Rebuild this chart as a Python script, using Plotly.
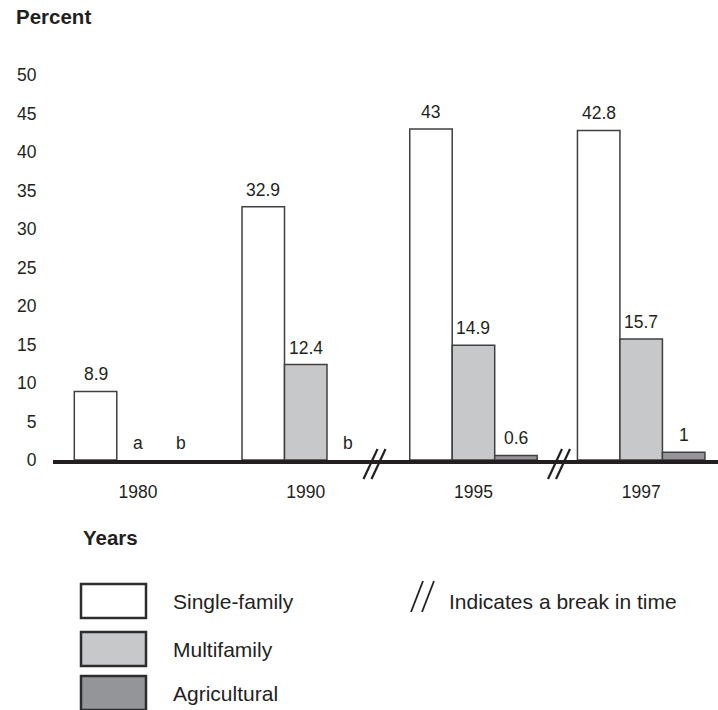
import plotly.graph_objects as go

# ---------------- data ----------------
years = ["1980", "1990", "1995", "1997"]
single = [8.9, 32.9, 43, 42.8]
multi = [None, 12.4, 14.9, 15.7]
agri = [None, None, 0.6, 1]
single_labels = ["8.9", "32.9", "43", "42.8"]
multi_labels = ["a", "12.4", "14.9", "15.7"]
agri_labels = ["b", "b", "0.6", "1"]
series_names = ["Single-family", "Multifamily", "Agricultural"]
y_ticks = [0, 5, 10, 15, 20, 25, 30, 35, 40, 45, 50]
break_positions = [1.41, 2.51]
break_note = "Indicates a break in time"

# ---------------- styles ----------------
colors = ["#ffffff", "#c7c8ca", "#939598"]
ink = "#231f20"
outline = "#404040"
FONT = "Liberation Sans, Arial, Helvetica, sans-serif"

W, H = 718, 710
ML, MR, MT, MB = 53, 0, 75, 250
x_range = [-0.507, 3.458]
y_range = [0, 50]
bargap = 0.24

plot_w = W - ML - MR
plot_h = H - MT - MB
px_per_cat = plot_w / (x_range[1] - x_range[0])
bar_px = (1 - bargap) / 3 * px_per_cat


def pxx(x):
    return (x - ML) / plot_w


def pxy(y):
    return (H - MB - y) / plot_h


def data_x_to_px(v):
    return ML + (v - x_range[0]) * px_per_cat


def data_y_to_px(v):
    return MT + (y_range[1] - v) / (y_range[1] - y_range[0]) * plot_h


fig = go.Figure()
series = [single, multi, agri]
labels = [single_labels, multi_labels, agri_labels]
for name, vals, col in zip(series_names, series, colors):
    fig.add_trace(go.Bar(
        x=years, y=vals, name=name,
        marker=dict(color=col, line=dict(color=outline, width=1.5)),
        showlegend=False, hoverinfo="skip",
    ))

annotations = []
for k, (vals, labs) in enumerate(zip(series, labels)):
    for i, (v, lab) in enumerate(zip(vals, labs)):
        annotations.append(dict(
            x=i, y=(v if v is not None else 0), xref="x", yref="y",
            text=lab, showarrow=False, xanchor="center", yanchor="middle",
            xshift=(k - 1) * bar_px, yshift=17,
            font=dict(family=FONT, size=17.5, color=ink),
        ))

# axis titles
annotations.append(dict(x=pxx(14), y=pxy(17), xref="paper", yref="paper",
                        text="<b>Percent</b>", showarrow=False,
                        xanchor="left", yanchor="middle",
                        font=dict(family=FONT, size=20.5, color=ink)))
annotations.append(dict(x=pxx(81), y=pxy(537), xref="paper", yref="paper",
                        text="<b>Years</b>", showarrow=False,
                        xanchor="left", yanchor="middle",
                        font=dict(family=FONT, size=20.5, color=ink)))

shapes = []
# break marks on the axis (paper coords, so they are not clipped)
base_px = data_y_to_px(0)
for bp in break_positions:
    cx = data_x_to_px(bp)
    for dx in (-4, 4):
        shapes.append(dict(
            type="line", xref="paper", yref="paper",
            x0=pxx(cx + dx + 7), y0=pxy(base_px - 11),
            x1=pxx(cx + dx - 7), y1=pxy(base_px + 19),
            line=dict(color=ink, width=2.2), layer="above",
        ))

# legend boxes
box_tops = [584, 632, 676]
for name, col, top in zip(series_names, colors, box_tops):
    shapes.append(dict(
        type="rect", xref="paper", yref="paper",
        x0=pxx(81), x1=pxx(146), y0=pxy(top), y1=pxy(top + 34),
        fillcolor=col, line=dict(color="#2d2d2d", width=2.5), layer="above",
    ))
    annotations.append(dict(
        x=pxx(171), y=pxy(top + 17), xref="paper", yref="paper",
        text=name, showarrow=False, xanchor="left", yanchor="middle",
        font=dict(family=FONT, size=21, color=ink),
    ))

# break legend
for (xt, xb) in ((423, 411), (434, 422)):
    shapes.append(dict(
        type="line", xref="paper", yref="paper",
        x0=pxx(xt), y0=pxy(581), x1=pxx(xb), y1=pxy(612),
        line=dict(color=ink, width=1.8),
    ))
annotations.append(dict(
    x=pxx(447), y=pxy(601), xref="paper", yref="paper",
    text=break_note, showarrow=False, xanchor="left", yanchor="middle",
    font=dict(family=FONT, size=21, color=ink),
))

fig.update_layout(
    width=W, height=H,
    margin=dict(l=ML, r=MR, t=MT, b=MB),
    paper_bgcolor="white", plot_bgcolor="white",
    barmode="group", bargap=bargap, bargroupgap=0,
    showlegend=False,
    font=dict(family=FONT, color=ink, size=17.5),
    annotations=annotations, shapes=shapes,
    xaxis=dict(
        type="category", range=x_range, showgrid=False, zeroline=False,
        showline=True, linewidth=3.5, linecolor=ink,
        ticks="outside", ticklen=13, tickcolor="rgba(0,0,0,0)",
        tickfont=dict(family=FONT, size=17.5, color=ink),
    ),
    yaxis=dict(
        range=y_range, tickvals=y_ticks, showgrid=False, zeroline=False,
        showline=False, ticks="outside", ticklen=12,
        tickcolor="rgba(0,0,0,0)",
        tickfont=dict(family=FONT, size=17.5, color=ink),
    ),
)

fig.write_html(
    "out.html",
    config={"displayModeBar": False, "staticPlot": True},
    post_script="document.body.style.margin='0px';document.body.style.padding='0px';",
)
